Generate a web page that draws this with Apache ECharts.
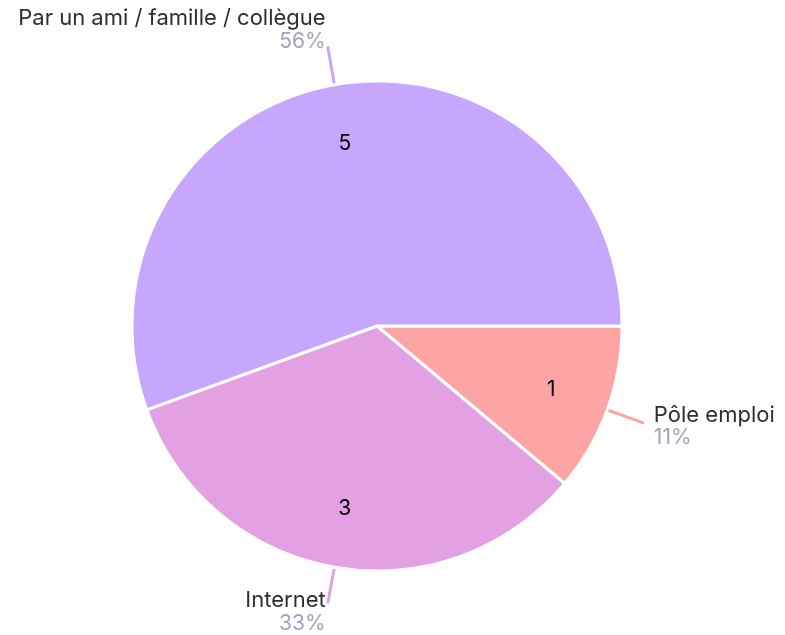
<!DOCTYPE html>
<html>
<head>
<meta charset="utf-8">
<script src="https://cdn.jsdelivr.net/npm/echarts@6/dist/echarts.min.js"></script>
<style>
  html, body { margin: 0; padding: 0; background: #fff; }
  #pie { width: 785px; height: 635px; }
</style>
</head>
<body>
<div id="pie"></div>
<script>
// données du graphique
var categories = ['Pôle emploi', 'Internet', 'Par un ami / famille / collègue'];
var values = [1, 3, 5];
var colors = ['#fda4a4', '#e3a0e3', '#c7a7fe'];

// petit décalage vertical des étiquettes (ligne vide avant / après)
var labelFormats = [
    '{sp1|}\n{name|{b}}\n{pct|{d}%}',
    '{sp2|}\n{name|{b}}\n{pct|{d}%}',
    '{name|{b}}\n{pct|{d}%}\n{sp3|}'
];
var labelGaps = [10, 2, 2];

var myChart = echarts.init(document.getElementById('pie'));

var data = categories.map(function (name, i) {
    return {
        name: name,
        value: values[i],
        itemStyle: { color: colors[i] },
        label: { formatter: labelFormats[i], distanceToLabelLine: labelGaps[i] },
        labelLine: { lineStyle: { color: colors[i] } }
    };
});

var option = {
    animation: false,
    series: [
        {
            // secteurs + étiquettes extérieures
            type: 'pie',
            center: [377, 326],
            radius: [0, 245],
            startAngle: 0,
            clockwise: true,
            percentPrecision: 0,
            itemStyle: { borderColor: '#fff', borderWidth: 3 },
            label: {
                show: true,
                position: 'outside',
                rich: {
                    name: { fontFamily: 'Inter', fontSize: 22, color: '#2e2e2e', lineHeight: 24 },
                    pct: { fontFamily: 'Inter', fontSize: 21, color: '#a0a2be', lineHeight: 22 },
                    sp1: { lineHeight: 6, fontSize: 1 },
                    sp2: { lineHeight: 16, fontSize: 1 },
                    sp3: { lineHeight: 34, fontSize: 1 }
                }
            },
            labelLine: { show: true, length: 39, length2: 0, lineStyle: { width: 3 } },
            emphasis: { disabled: true },
            data: data
        },
        {
            // valeurs à l'intérieur
            type: 'pie',
            center: [377, 326],
            radius: [120, 245],
            startAngle: 0,
            clockwise: true,
            silent: true,
            itemStyle: { color: 'rgba(0,0,0,0)' },
            label: {
                show: true,
                position: 'inside',
                formatter: '{c}',
                fontFamily: 'Inter',
                fontSize: 21,
                color: '#000'
            },
            labelLine: { show: false },
            data: categories.map(function (name, i) { return { name: name, value: values[i] }; })
        }
    ]
};
myChart.setOption(option);
</script>
</body>
</html>
